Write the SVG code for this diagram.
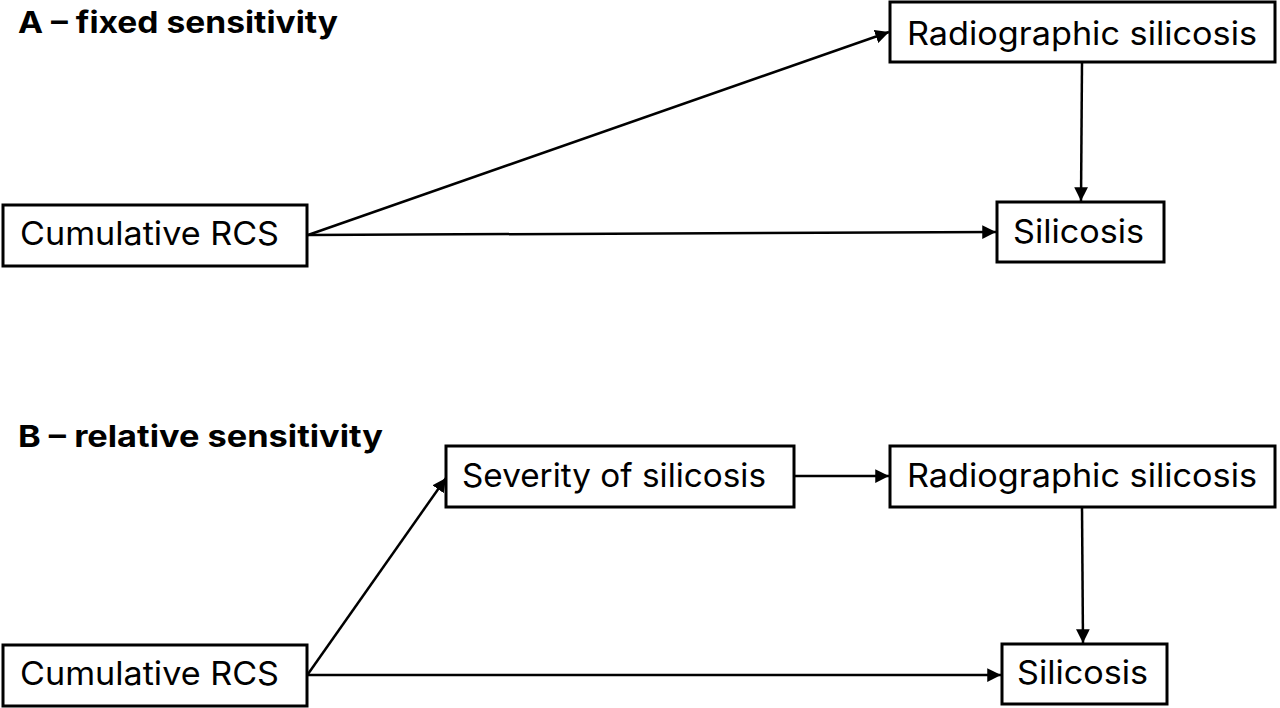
<svg xmlns="http://www.w3.org/2000/svg" width="1280" height="708" viewBox="0 0 1280 708">
<defs>
<style>
.box{fill:#fff;stroke:#000;stroke-width:3}
.lbl{font-family:Inter,"Liberation Sans",sans-serif;font-size:32.5px;fill:#000}
.ttl{font-family:Inter,"Liberation Sans",sans-serif;font-size:30px;font-weight:bold;fill:#000}
.edge{stroke:#000;stroke-width:2.5;fill:none;marker-end:url(#ah)}
</style>
<marker id="ah" viewBox="0 0 10 10" refX="10" refY="5" markerWidth="5.5" markerHeight="5.5" orient="auto" markerUnits="strokeWidth">
<path d="M0,0 L10,5 L0,10 z" fill="#000"/>
</marker>
</defs>
<rect width="1280" height="708" fill="#fff"/>
<text class="ttl" x="18" y="33" textLength="320" lengthAdjust="spacingAndGlyphs">A – fixed sensitivity</text>
<text class="ttl" x="18" y="447" textLength="365" lengthAdjust="spacingAndGlyphs">B – relative sensitivity</text>
<g id="connectors">
<line class="edge" x1="308" y1="235" x2="889" y2="32"/>
<line class="edge" x1="308" y1="235" x2="996" y2="232"/>
<line class="edge" x1="1082" y1="62" x2="1081" y2="201"/>
<line class="edge" x1="308" y1="674" x2="446" y2="478"/>
<line class="edge" x1="794" y1="476" x2="889" y2="476"/>
<line class="edge" x1="1082" y1="507" x2="1083" y2="643"/>
<line class="edge" x1="308" y1="675" x2="1001" y2="675"/>
</g>
<g id="radio-a"><rect class="box" x="890" y="2" width="385" height="60"/><text class="lbl" x="907" y="45" textLength="350" lengthAdjust="spacingAndGlyphs">Radiographic silicosis</text></g>
<g id="cum-a"><rect class="box" x="3" y="205" width="304" height="61"/><text class="lbl" x="20" y="245" textLength="259" lengthAdjust="spacingAndGlyphs">Cumulative RCS</text></g>
<g id="sil-a"><rect class="box" x="997" y="202" width="167" height="60"/><text class="lbl" x="1013" y="243" textLength="131" lengthAdjust="spacingAndGlyphs">Silicosis</text></g>
<g id="sev-b"><rect class="box" x="446" y="446" width="348" height="61"/><text class="lbl" x="462" y="487" textLength="304" lengthAdjust="spacingAndGlyphs">Severity of silicosis</text></g>
<g id="radio-b"><rect class="box" x="890" y="446" width="385" height="61"/><text class="lbl" x="907" y="487" textLength="350" lengthAdjust="spacingAndGlyphs">Radiographic silicosis</text></g>
<g id="cum-b"><rect class="box" x="3" y="645" width="304" height="61"/><text class="lbl" x="20" y="685" textLength="259" lengthAdjust="spacingAndGlyphs">Cumulative RCS</text></g>
<g id="sil-b"><rect class="box" x="1002" y="644" width="165" height="60"/><text class="lbl" x="1017" y="684" textLength="131" lengthAdjust="spacingAndGlyphs">Silicosis</text></g>
</svg>
